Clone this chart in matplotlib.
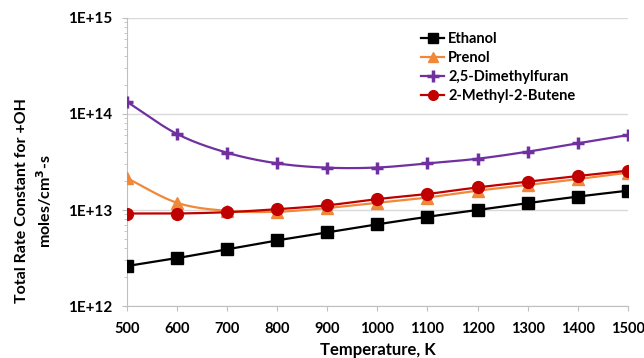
import numpy as np
import matplotlib
matplotlib.use("Agg")
import matplotlib.pyplot as plt
from matplotlib.ticker import LogLocator, FixedLocator, NullFormatter
from matplotlib.lines import Line2D

temps = [500, 600, 700, 800, 900, 1000, 1100, 1200, 1300, 1400, 1500]
ethanol = [2.61e12, 3.16e12, 3.9e12, 4.83e12, 5.85e12, 7.1e12, 8.5e12, 1.0e13, 1.18e13, 1.38e13, 1.59e13]
prenol = [2.15e13, 1.19e13, 9.8e12, 9.6e12, 1.05e13, 1.19e13, 1.35e13, 1.59e13, 1.82e13, 2.1e13, 2.45e13]
dmf = [1.34e14, 6.2e13, 3.95e13, 3.06e13, 2.76e13, 2.77e13, 3.06e13, 3.42e13, 4.05e13, 4.95e13, 6.03e13]
mbutene = [9.2e12, 9.2e12, 9.5e12, 1.02e13, 1.12e13, 1.30e13, 1.47e13, 1.72e13, 1.97e13, 2.26e13, 2.57e13]

names = ["Ethanol", "Prenol", "2,5-Dimethylfuran", "2-Methyl-2-Butene"]
ytick_labels = ["1E+12", "1E+13", "1E+14", "1E+15"]

plt.rcParams['font.family'] = ['Lato', 'DejaVu Sans']


def smooth(x, y, n=20):
    """Catmull-Rom spline through points (y in log space), like Excel smoothed lines."""
    x = np.asarray(x, float)
    ly = np.log10(np.asarray(y, float))
    P = np.column_stack([x, ly])
    P = np.vstack([2 * P[0] - P[1], P, 2 * P[-1] - P[-2]])
    out = []
    for i in range(1, len(P) - 2):
        p0, p1, p2, p3 = P[i - 1], P[i], P[i + 1], P[i + 2]
        t = np.linspace(0, 1, n, endpoint=False)[:, None]
        seg = 0.5 * ((2 * p1) + (-p0 + p2) * t + (2 * p0 - 5 * p1 + 4 * p2 - p3) * t ** 2
                     + (-p0 + 3 * p1 - 3 * p2 + p3) * t ** 3)
        out.append(seg)
    out.append(P[-2][None, :])
    out = np.vstack(out)
    return out[:, 0], 10 ** out[:, 1]


fig = plt.figure(figsize=(6.44, 3.58), dpi=100)
ax = fig.add_axes([0.197, 0.145, 0.778, 0.805])

colors = ["black", "#F0883A", "#7030A0", "#C00000"]
markers = ["s", "^", "+", "o"]
msizes = [8.5, 8, 9, 8.5]
mews = [1, 1, 2.5, 1]
series = [ethanol, prenol, dmf, mbutene]
for i in range(4):
    sx, sy = smooth(temps, series[i])
    ax.plot(sx, sy, color=colors[i], lw=1.6, zorder=3)
    ax.plot(temps, series[i], linestyle="none", marker=markers[i], ms=msizes[i],
            mew=mews[i], color=colors[i], zorder=4)

handles = [
    Line2D([], [], color=colors[i], marker=markers[i], ms=7 if i != 2 else 8,
           mew=mews[i], lw=1.6)
    for i in range(4)
]
leg = ax.legend(handles, names, loc="upper left", bbox_to_anchor=(0.567, 0.985),
                frameon=False, handlelength=1.6, handletextpad=0.25, labelspacing=0.33,
                borderaxespad=0.3, prop=dict(weight="bold", size=10.5))

ax.set_yscale("log")
ax.set_ylim(1e12, 1e15)
ax.set_xlim(500, 1500)
ax.set_xticks(temps)
ax.set_xticklabels([str(t) for t in temps])
ax.yaxis.set_major_locator(FixedLocator([1e12, 1e13, 1e14, 1e15]))
ax.set_yticklabels(ytick_labels)
ax.yaxis.set_minor_locator(LogLocator(base=10, subs=np.arange(2, 10)))
ax.yaxis.set_minor_formatter(NullFormatter())

for lab in ax.get_yticklabels():
    lab.set_fontweight("bold")
    lab.set_fontsize(11)
for lab in ax.get_xticklabels():
    lab.set_fontweight("bold")
    lab.set_fontsize(10.5)

ax.grid(axis="y", which="major", color="#D9D9D9", lw=1)
ax.set_axisbelow(True)
for s in ["top", "right"]:
    ax.spines[s].set_visible(False)
for s in ["left", "bottom"]:
    ax.spines[s].set_color("#BFBFBF")
ax.tick_params(axis="both", which="both", color="#BFBFBF")
ax.tick_params(axis="y", which="major", length=3.6, pad=7)
ax.tick_params(axis="y", which="minor", length=2.2)
ax.tick_params(axis="x", which="major", length=3.6, pad=8)

ax.set_xlabel("Temperature, K", fontweight="bold", fontsize=12, labelpad=4)
ax.set_ylabel("Total Rate Constant for +OH\nmoles/cm$^\\mathbf{3}$-s", fontweight="bold",
              fontsize=11.5, linespacing=1.35, ha="center", va="center")
ax.yaxis.set_label_coords(-0.184, 0.365)

fig.savefig("out.png", dpi=100)
